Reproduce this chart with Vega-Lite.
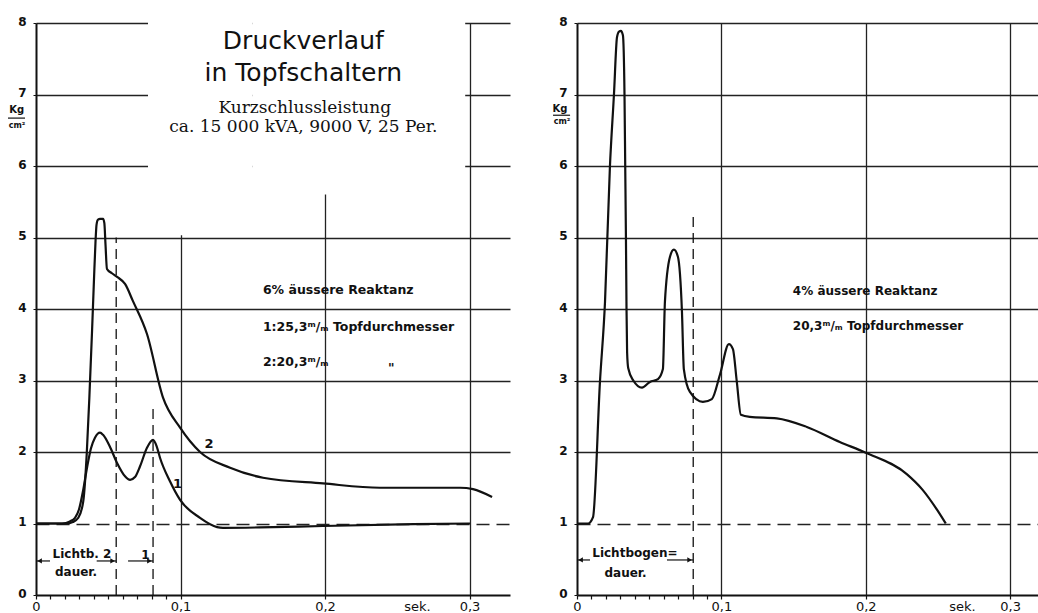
{
  "$schema": "https://vega.github.io/schema/vega-lite/v6.json",
  "background": "white",
  "padding": {"left": 7, "top": 15, "right": 0, "bottom": 0},
  "bounds": "flush",
  "spacing": 67,
  "config": {"view": {"stroke": null}, "font": "DejaVu Sans"},
  "datasets": {
    "curvesL": [
      {"t": 0, "p": 1.0, "curve": "1"}, {"t": 0.018, "p": 1.0, "curve": "1"}, {"t": 0.0235, "p": 1.03, "curve": "1"},
      {"t": 0.027, "p": 1.08, "curve": "1"}, {"t": 0.0298, "p": 1.2, "curve": "1"}, {"t": 0.0325, "p": 1.45, "curve": "1"},
      {"t": 0.0353, "p": 1.78, "curve": "1"}, {"t": 0.038, "p": 2.05, "curve": "1"}, {"t": 0.0408, "p": 2.2, "curve": "1"},
      {"t": 0.0443, "p": 2.27, "curve": "1"}, {"t": 0.0464, "p": 2.24, "curve": "1"}, {"t": 0.051, "p": 2.08, "curve": "1"},
      {"t": 0.056, "p": 1.85, "curve": "1"}, {"t": 0.0616, "p": 1.66, "curve": "1"}, {"t": 0.0651, "p": 1.61, "curve": "1"},
      {"t": 0.0685, "p": 1.65, "curve": "1"}, {"t": 0.072, "p": 1.8, "curve": "1"}, {"t": 0.0768, "p": 2.06, "curve": "1"},
      {"t": 0.081, "p": 2.17, "curve": "1"}, {"t": 0.0835, "p": 2.08, "curve": "1"}, {"t": 0.0858, "p": 1.92, "curve": "1"},
      {"t": 0.0927, "p": 1.59, "curve": "1"}, {"t": 0.0997, "p": 1.33, "curve": "1"}, {"t": 0.1135, "p": 1.08, "curve": "1"},
      {"t": 0.1253, "p": 0.95, "curve": "1"}, {"t": 0.1294, "p": 0.94, "curve": "1"}, {"t": 0.155, "p": 0.945, "curve": "1"},
      {"t": 0.1986, "p": 0.965, "curve": "1"}, {"t": 0.2609, "p": 0.99, "curve": "1"}, {"t": 0.3003, "p": 1.0, "curve": "1"},
      {"t": 0, "p": 1.0, "curve": "2"}, {"t": 0.021, "p": 1.0, "curve": "2"}, {"t": 0.0255, "p": 1.02, "curve": "2"},
      {"t": 0.0293, "p": 1.08, "curve": "2"}, {"t": 0.0327, "p": 1.31, "curve": "2"}, {"t": 0.0351, "p": 1.97, "curve": "2"},
      {"t": 0.037, "p": 2.8, "curve": "2"}, {"t": 0.0388, "p": 3.7, "curve": "2"}, {"t": 0.0401, "p": 4.4, "curve": "2"},
      {"t": 0.0412, "p": 4.95, "curve": "2"}, {"t": 0.0419, "p": 5.18, "curve": "2"}, {"t": 0.0429, "p": 5.25, "curve": "2"},
      {"t": 0.0443, "p": 5.26, "curve": "2"}, {"t": 0.0464, "p": 5.26, "curve": "2"}, {"t": 0.0473, "p": 5.2, "curve": "2"},
      {"t": 0.0481, "p": 4.9, "curve": "2"}, {"t": 0.0491, "p": 4.56, "curve": "2"}, {"t": 0.0525, "p": 4.5, "curve": "2"},
      {"t": 0.0561, "p": 4.45, "curve": "2"}, {"t": 0.0616, "p": 4.35, "curve": "2"}, {"t": 0.0671, "p": 4.11, "curve": "2"},
      {"t": 0.0768, "p": 3.65, "curve": "2"}, {"t": 0.0879, "p": 2.76, "curve": "2"}, {"t": 0.0997, "p": 2.34, "curve": "2"},
      {"t": 0.1135, "p": 2.0, "curve": "2"}, {"t": 0.1343, "p": 1.78, "curve": "2"}, {"t": 0.1571, "p": 1.64, "curve": "2"},
      {"t": 0.1986, "p": 1.56, "curve": "2"}, {"t": 0.238, "p": 1.5, "curve": "2"}, {"t": 0.2934, "p": 1.5, "curve": "2"},
      {"t": 0.3024, "p": 1.48, "curve": "2"}, {"t": 0.3156, "p": 1.37, "curve": "2"}
    ],
    "curveR": [
      {"t": 0, "p": 1.0}, {"t": 0.0076, "p": 1.0}, {"t": 0.0111, "p": 1.09}, {"t": 0.0159, "p": 2.98},
      {"t": 0.0194, "p": 4.1}, {"t": 0.0228, "p": 5.99}, {"t": 0.0256, "p": 7.0}, {"t": 0.0277, "p": 7.8},
      {"t": 0.0291, "p": 7.88}, {"t": 0.0304, "p": 7.89}, {"t": 0.0318, "p": 7.83}, {"t": 0.0329, "p": 7.0},
      {"t": 0.0334, "p": 6.0}, {"t": 0.0339, "p": 5.0}, {"t": 0.0343, "p": 4.0}, {"t": 0.0347, "p": 3.4},
      {"t": 0.0355, "p": 3.17}, {"t": 0.039, "p": 3.0}, {"t": 0.045, "p": 2.9}, {"t": 0.0505, "p": 2.98},
      {"t": 0.0561, "p": 3.02}, {"t": 0.0595, "p": 3.16}, {"t": 0.0609, "p": 4.1}, {"t": 0.0644, "p": 4.73},
      {"t": 0.0671, "p": 4.83}, {"t": 0.0699, "p": 4.73}, {"t": 0.0727, "p": 3.96}, {"t": 0.074, "p": 3.16},
      {"t": 0.0782, "p": 2.84}, {"t": 0.0872, "p": 2.7}, {"t": 0.0934, "p": 2.74}, {"t": 0.099, "p": 3.08},
      {"t": 0.1052, "p": 3.51}, {"t": 0.108, "p": 3.44}, {"t": 0.1107, "p": 2.98}, {"t": 0.1135, "p": 2.52},
      {"t": 0.1197, "p": 2.49}, {"t": 0.1384, "p": 2.47}, {"t": 0.1592, "p": 2.35}, {"t": 0.182, "p": 2.14},
      {"t": 0.2, "p": 1.99}, {"t": 0.2284, "p": 1.69}, {"t": 0.2394, "p": 1.47}, {"t": 0.2491, "p": 1.2},
      {"t": 0.2554, "p": 1.0}
    ],
    "maskL": [{"t": 0.0775, "t2": 0.15, "p": 5.03, "p2": 8.03}, {"t": 0.15, "t2": 0.297, "p": 5.6, "p2": 8.03}],
    "dashL": [{"t": 0.0555, "p": 0, "p2": 5.0}, {"t": 0.081, "p": 0, "p2": 2.64}],
    "dashR": [{"t": 0.0805, "p": 0, "p2": 5.3}],
    "titleL": [{"t": 0.185, "p": 7.636, "text": "Druckverlauf"}, {"t": 0.185, "p": 7.19, "text": "in Topfschaltern"}],
    "subL": [{"t": 0.186, "p": 6.745, "text": "Kurzschlussleistung"}, {"t": 0.185, "p": 6.48, "text": "ca. 15 000 kVA, 9000 V, 25 Per."}],
    "annL": [{"t": 0.157, "p": 4.21, "text": "6% äussere Reaktanz"}, {"t": 0.157, "p": 3.69, "text": "1:25,3ᵐ/ₘ Topfdurchmesser"}, {"t": 0.157, "p": 3.2, "text": "2:20,3ᵐ/ₘ"}, {"t": 0.2436, "p": 3.12, "text": "\""}],
    "annR": [{"t": 0.1495, "p": 4.2, "text": "4% äussere Reaktanz"}, {"t": 0.1495, "p": 3.71, "text": "20,3ᵐ/ₘ Topfdurchmesser"}],
    "curveLabL": [{"t": 0.1197, "p": 2.11, "text": "2"}, {"t": 0.0979, "p": 1.55, "text": "1"}],
    "dimTextL": [{"t": 0.0318, "p": 0.517, "text": "Lichtb. 2"}, {"t": 0.0277, "p": 0.266, "text": "dauer."}, {"t": 0.0758, "p": 0.503, "text": "1"}],
    "dimLineL": [{"t": 0, "t2": 0.0097, "p": 0.476}, {"t": 0.042, "t2": 0.0555, "p": 0.476}, {"t": 0.0637, "t2": 0.081, "p": 0.476}],
    "arrLeftL": [{"t": 0.0025, "p": 0.476}],
    "arrRightL": [{"t": 0.053, "p": 0.476}, {"t": 0.0785, "p": 0.476}],
    "dimTextR": [{"t": 0.0401, "p": 0.53, "text": "Lichtbogen="}, {"t": 0.0336, "p": 0.25, "text": "dauer."}],
    "dimLineR": [{"t": 0, "t2": 0.009, "p": 0.49}, {"t": 0.0623, "t2": 0.0805, "p": 0.49}],
    "arrLeftR": [{"t": 0.0025, "p": 0.49}],
    "arrRightR": [{"t": 0.078, "p": 0.49}],
    "kgL": [{"t": -0.0134, "p": 6.74, "text": "Kg"}],
    "cmL": [{"t": -0.0131, "p": 6.53, "text": "cm²"}],
    "barL": [{"t": -0.0194, "t2": -0.0076, "p": 6.67}],
    "kgR": [{"t": -0.0118, "p": 6.755, "text": "Kg"}],
    "cmR": [{"t": -0.0104, "p": 6.59, "text": "cm²"}],
    "barR": [{"t": -0.0166, "t2": -0.0048, "p": 6.71}]
  },
  "hconcat": [
    {
      "width": 474,
      "height": 572,
      "encoding": {
        "x": {
          "field": "t", "type": "quantitative",
          "scale": {"domain": [0, 0.328], "nice": false, "zero": false},
          "axis": {
            "values": [0, 0.01, 0.02, 0.03, 0.04, 0.05, 0.06, 0.07, 0.08, 0.09, 0.1, 0.2, 0.3],
            "labelExpr": "indexof([0, 0.1, 0.2, 0.3], datum.value) >= 0 ? replace(format(datum.value, '.1~f'), '.', ',') : ''",
            "labelOverlap": false, "labelFlush": false,
            "labelFont": "DejaVu Sans", "labelFontSize": 13, "labelColor": "#111", "labelPadding": 1,
            "tickSize": 4, "tickColor": "#111", "tickWidth": 1.2,
            "domainColor": "#111", "domainWidth": 2,
            "grid": true, "gridColor": "#222", "gridWidth": 1.3,
            "gridOpacity": {"condition": {"test": "datum.value > 0.095", "value": 1}, "value": 0},
            "title": "sek.", "titleFont": "DejaVu Sans", "titleFontSize": 13, "titleFontWeight": "normal",
            "titleColor": "#111", "titleX": 381, "titleY": 5, "titleBaseline": "top", "titleAlign": "center"
          }
        },
        "y": {
          "field": "p", "type": "quantitative",
          "scale": {"domain": [0, 8], "nice": false, "zero": false},
          "axis": {
            "values": [0, 1, 2, 3, 4, 5, 6, 7, 8],
            "labelFont": "DejaVu Sans", "labelFontSize": 12, "labelFontWeight": "bold", "labelColor": "#111",
            "labelPadding": 7, "labelOffset": -2, "tickSize": 3, "tickColor": "#111",
            "domainColor": "#111", "domainWidth": 2,
            "grid": true, "gridColor": "#222", "gridWidth": 1.3,
            "gridDash": {"condition": {"test": "datum.value === 1", "value": [13, 7]}, "value": []},
            "gridOpacity": {"condition": {"test": "datum.value === 0", "value": 0}, "value": 1},
            "title": null
          }
        }
      },
      "layer": [
        {"data": {"name": "maskL"}, "mark": {"type": "rect", "fill": "white", "strokeWidth": 0},
         "encoding": {"x2": {"field": "t2"}, "y2": {"field": "p2"}}},
        {"data": {"name": "dashL"}, "mark": {"type": "rule", "color": "#111", "strokeWidth": 1.3, "strokeDash": [10, 6]},
         "encoding": {"y2": {"field": "p2"}}},
        {"data": {"name": "curvesL"}, "mark": {"type": "line", "color": "#111", "strokeWidth": 2.2, "interpolate": "monotone"},
         "encoding": {"detail": {"field": "curve"}}},
        {"data": {"name": "curveLabL"}, "mark": {"type": "text", "font": "DejaVu Sans", "fontSize": 13, "fontWeight": "bold", "color": "#111", "align": "center", "baseline": "middle"},
         "encoding": {"text": {"field": "text"}}},
        {"data": {"name": "titleL"}, "mark": {"type": "text", "font": "DejaVu Sans", "fontSize": 25, "color": "#111", "align": "center", "baseline": "alphabetic"},
         "encoding": {"text": {"field": "text"}}},
        {"data": {"name": "subL"}, "mark": {"type": "text", "font": "DejaVu Serif", "fontSize": 17, "color": "#111", "align": "center", "baseline": "alphabetic"},
         "encoding": {"text": {"field": "text"}}},
        {"data": {"name": "annL"}, "mark": {"type": "text", "font": "DejaVu Sans", "fontSize": 12.5, "fontWeight": "bold", "color": "#111", "align": "left", "baseline": "alphabetic"},
         "encoding": {"text": {"field": "text"}}},
        {"data": {"name": "dimTextL"}, "mark": {"type": "text", "font": "DejaVu Sans", "fontSize": 12, "fontWeight": "bold", "color": "#111", "align": "center", "baseline": "alphabetic"},
         "encoding": {"text": {"field": "text"}}},
        {"data": {"name": "dimLineL"}, "mark": {"type": "rule", "color": "#111", "strokeWidth": 1.2},
         "encoding": {"x2": {"field": "t2"}}},
        {"data": {"name": "arrLeftL"}, "mark": {"type": "point", "shape": "triangle-left", "filled": true, "color": "#111", "size": 28, "opacity": 1},
         "encoding": {}},
        {"data": {"name": "arrRightL"}, "mark": {"type": "point", "shape": "triangle-right", "filled": true, "color": "#111", "size": 28, "opacity": 1},
         "encoding": {}},
        {"data": {"name": "kgL"}, "mark": {"type": "text", "font": "DejaVu Sans", "fontSize": 10, "fontWeight": "bold", "color": "#111", "align": "center", "baseline": "alphabetic"},
         "encoding": {"text": {"field": "text"}}},
        {"data": {"name": "cmL"}, "mark": {"type": "text", "font": "DejaVu Sans", "fontSize": 8, "fontWeight": "bold", "color": "#111", "align": "center", "baseline": "alphabetic"},
         "encoding": {"text": {"field": "text"}}},
        {"data": {"name": "barL"}, "mark": {"type": "rule", "color": "#111", "strokeWidth": 1.2},
         "encoding": {"x2": {"field": "t2"}}}
      ]
    },
    {
      "width": 462,
      "height": 572,
      "encoding": {
        "x": {
          "field": "t", "type": "quantitative",
          "scale": {"domain": [0, 0.32], "nice": false, "zero": false},
          "axis": {
            "values": [0, 0.01, 0.02, 0.03, 0.04, 0.05, 0.06, 0.07, 0.08, 0.09, 0.1, 0.2, 0.3],
            "labelExpr": "indexof([0, 0.1, 0.2, 0.3], datum.value) >= 0 ? replace(format(datum.value, '.1~f'), '.', ',') : ''",
            "labelOverlap": false, "labelFlush": false,
            "labelFont": "DejaVu Sans", "labelFontSize": 13, "labelColor": "#111", "labelPadding": 1,
            "tickSize": 4, "tickColor": "#111", "tickWidth": 1.2,
            "domainColor": "#111", "domainWidth": 2,
            "grid": true, "gridColor": "#222", "gridWidth": 1.3,
            "gridOpacity": {"condition": {"test": "datum.value > 0.095", "value": 1}, "value": 0},
            "title": "sek.", "titleFont": "DejaVu Sans", "titleFontSize": 13, "titleFontWeight": "normal",
            "titleColor": "#111", "titleX": 385, "titleY": 5, "titleBaseline": "top", "titleAlign": "center"
          }
        },
        "y": {
          "field": "p", "type": "quantitative",
          "scale": {"domain": [0, 8], "nice": false, "zero": false},
          "axis": {
            "values": [0, 1, 2, 3, 4, 5, 6, 7, 8],
            "labelFont": "DejaVu Sans", "labelFontSize": 12, "labelFontWeight": "bold", "labelColor": "#111",
            "labelPadding": 7, "labelOffset": -2, "tickSize": 3, "tickColor": "#111",
            "domainColor": "#111", "domainWidth": 2,
            "grid": true, "gridColor": "#222", "gridWidth": 1.3,
            "gridDash": {"condition": {"test": "datum.value === 1", "value": [13, 7]}, "value": []},
            "gridOpacity": {"condition": {"test": "datum.value === 0", "value": 0}, "value": 1},
            "title": null
          }
        }
      },
      "layer": [
        {"data": {"name": "dashR"}, "mark": {"type": "rule", "color": "#111", "strokeWidth": 1.3, "strokeDash": [10, 6]},
         "encoding": {"y2": {"field": "p2"}}},
        {"data": {"name": "curveR"}, "mark": {"type": "line", "color": "#111", "strokeWidth": 2.2, "interpolate": "monotone"},
         "encoding": {}},
        {"data": {"name": "annR"}, "mark": {"type": "text", "font": "DejaVu Sans", "fontSize": 12, "fontWeight": "bold", "color": "#111", "align": "left", "baseline": "alphabetic"},
         "encoding": {"text": {"field": "text"}}},
        {"data": {"name": "dimTextR"}, "mark": {"type": "text", "font": "DejaVu Sans", "fontSize": 12, "fontWeight": "bold", "color": "#111", "align": "center", "baseline": "alphabetic"},
         "encoding": {"text": {"field": "text"}}},
        {"data": {"name": "dimLineR"}, "mark": {"type": "rule", "color": "#111", "strokeWidth": 1.2},
         "encoding": {"x2": {"field": "t2"}}},
        {"data": {"name": "arrLeftR"}, "mark": {"type": "point", "shape": "triangle-left", "filled": true, "color": "#111", "size": 28, "opacity": 1},
         "encoding": {}},
        {"data": {"name": "arrRightR"}, "mark": {"type": "point", "shape": "triangle-right", "filled": true, "color": "#111", "size": 28, "opacity": 1},
         "encoding": {}},
        {"data": {"name": "kgR"}, "mark": {"type": "text", "font": "DejaVu Sans", "fontSize": 10, "fontWeight": "bold", "color": "#111", "align": "center", "baseline": "alphabetic"},
         "encoding": {"text": {"field": "text"}}},
        {"data": {"name": "cmR"}, "mark": {"type": "text", "font": "DejaVu Sans", "fontSize": 8, "fontWeight": "bold", "color": "#111", "align": "center", "baseline": "alphabetic"},
         "encoding": {"text": {"field": "text"}}},
        {"data": {"name": "barR"}, "mark": {"type": "rule", "color": "#111", "strokeWidth": 1.2},
         "encoding": {"x2": {"field": "t2"}}}
      ]
    }
  ]
}
